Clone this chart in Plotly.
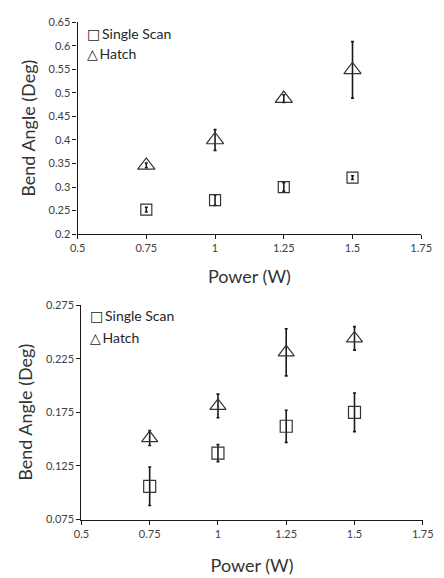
import plotly.graph_objects as go

power = [0.75, 1.0, 1.25, 1.5]

# Top chart
top_single = [0.252, 0.272, 0.300, 0.320]
top_single_err = [0.005, 0.011, 0.009, 0.004]
top_hatch = [0.346, 0.400, 0.488, 0.549]
top_hatch_err = [0.005, 0.022, 0.008, 0.060]

# Bottom chart
bot_single = [0.106, 0.137, 0.162, 0.175]
bot_single_err = [0.018, 0.008, 0.015, 0.018]
bot_hatch = [0.151, 0.181, 0.231, 0.244]
bot_hatch_err = [0.007, 0.011, 0.022, 0.011]

series_names = ["Single Scan", "Hatch"]
legend_glyphs = ["\u25a1", "\u25b3"]

x_ticks = [0.5, 0.75, 1, 1.25, 1.5, 1.75]
x_ticklabels = ["0.5", "0.75", "1", "1.25", "1.5", "1.75"]
top_yticks = [0.2, 0.25, 0.3, 0.35, 0.4, 0.45, 0.5, 0.55, 0.6, 0.65]
top_yticklabels = ["0.2", "0.25", "0.3", "0.35", "0.4", "0.45", "0.5", "0.55", "0.6", "0.65"]
bot_yticks = [0.075, 0.125, 0.175, 0.225, 0.275]
bot_yticklabels = ["0.075", "0.125", "0.175", "0.225", "0.275"]

FONT = "Lato"
W, H = 444, 578

fig = go.Figure()

def add(xv, yv, err, name, symbol, size, xa, ya):
    fig.add_trace(go.Scatter(
        x=xv, y=yv, mode="markers", name=name, showlegend=False,
        marker=dict(symbol=symbol, size=size, color="#333333",
                    line=dict(color="#333333", width=1.2)),
        error_y=dict(type="data", array=err, visible=True, color="#1a1a1a",
                     thickness=1.6, width=1.5),
        xaxis=xa, yaxis=ya,
    ))

add(power, top_single, top_single_err, series_names[0], "square-open", 11, "x", "y")
add(power, top_hatch, top_hatch_err, series_names[1], "triangle-up-open", 15, "x", "y")
add(power, bot_single, bot_single_err, series_names[0], "square-open", 12, "x2", "y2")
add(power, bot_hatch, bot_hatch_err, series_names[1], "triangle-up-open", 14, "x2", "y2")

axis_common = dict(
    showline=True, linecolor="#1a1a1a", linewidth=1.2,
    ticks="outside", ticklen=4, tickcolor="#1a1a1a",
    showgrid=False, zeroline=False,
    tickfont=dict(family=FONT, size=11, color="#404040"),
    title_font=dict(family=FONT, size=18, color="#333333"),
    mirror=False,
)

def px_x(p):
    return p / W

def px_y(p):
    return 1 - p / H

# legend entries (text glyph + name), as in the original figure
annotations = []
for (lx, ly_list) in [(80, [26.7, 47.7]), (84, [315.7, 337.7])]:
    for glyph, name, ly in zip(legend_glyphs, series_names, ly_list):
        annotations.append(dict(
            text="<span style='font-family:DejaVu Sans;font-size:14px'>" + glyph + "</span>\u2009" + name,
            xref="paper", yref="paper",
            x=px_x(lx), y=px_y(ly), xanchor="left", yanchor="middle",
            showarrow=False, font=dict(family=FONT, size=14, color="#262626"),
        ))

fig.update_layout(
    width=W, height=H,
    margin=dict(l=0, r=0, t=0, b=0),
    paper_bgcolor="white", plot_bgcolor="white",
    font=dict(family=FONT, color="#333333"),
    xaxis=dict(axis_common, domain=[px_x(72.7), px_x(431.7)], range=[0.5, 1.75],
               tickvals=x_ticks, ticktext=x_ticklabels, anchor="y",
               title=dict(text="Power (W)", standoff=17)),
    yaxis=dict(axis_common, domain=[px_y(232.3), px_y(15.7)], range=[0.2, 0.65],
               tickvals=top_yticks, ticktext=top_yticklabels, anchor="x",
               title=dict(text="Bend Angle (Deg)", standoff=8)),
    xaxis2=dict(axis_common, domain=[px_x(76.7), px_x(433.3)], range=[0.5, 1.75],
                tickvals=x_ticks, ticktext=x_ticklabels, anchor="y2",
                title=dict(text="Power (W)", standoff=20)),
    yaxis2=dict(axis_common, domain=[px_y(524.3), px_y(305)], range=[0.075, 0.275],
                tickvals=bot_yticks, ticktext=bot_yticklabels, anchor="x2",
                title=dict(text="Bend Angle (Deg)", standoff=8)),
    annotations=annotations,
    showlegend=False,
)

fig.write_html("out.html", config={"displayModeBar": False},
               post_script="document.body.style.margin='0px';")
